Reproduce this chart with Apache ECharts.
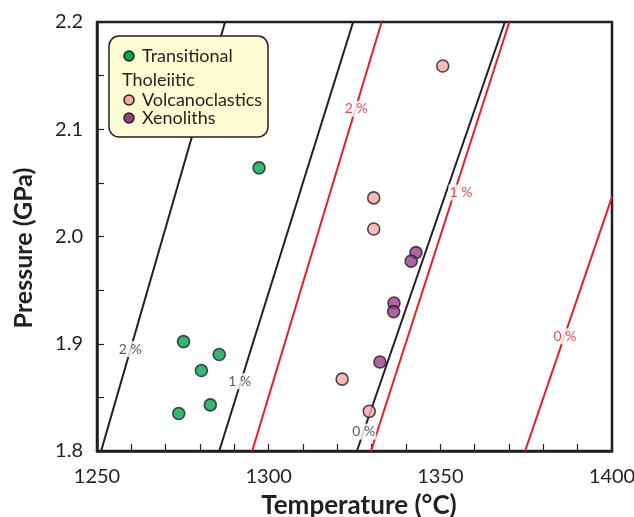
<!DOCTYPE html>
<html><head><meta charset="utf-8">
<script src="https://cdn.jsdelivr.net/npm/echarts@6/dist/echarts.min.js"></script>
<style>html,body{margin:0;padding:0;background:#fff}#c{width:634px;height:517px}</style>
</head><body><div id="c"></div>
<script>
// ---- data ----
const transitional = [[1275.2,1.902],[1285.6,1.890],[1280.4,1.875],[1283.0,1.843],[1273.8,1.835],[1297.2,2.064]];
const volcanoclastics = [[1350.7,2.159],[1330.6,2.036],[1330.6,2.007],[1321.4,1.867],[1329.3,1.837]];
const xenoliths = [[1342.9,1.985],[1341.5,1.977],[1336.5,1.938],[1336.4,1.930],[1332.4,1.883]];
const black2 = [[1251.2,1.8],[1287.3,2.2]];
const black1 = [[1285.6,1.8],[1324.6,2.2]];
const black0 = [[1325.7,1.8],[1368.8,2.2]];
const red2 = [[1295.2,1.8],[1332.9,2.2]];
const red1 = [[1329.8,1.8],[1370.1,2.2]];
const red0 = [[1374.7,1.8],[1400,2.037]];
const blackLabels = [[1259.7,1.895,'2 %'],[1291.6,1.865,'1 %'],[1327.7,1.818,'0 %']];
const redLabels = [[1325.5,2.119,'2 %'],[1356.0,2.041,'1 %'],[1386.3,1.907,'0 %']];
const xTicks = [1250,1300,1350,1400];
const yTicks = [1.8,1.9,2.0,2.1,2.2];

const FONT = 'Lato';
const INK = '#231f20';
const chart = echarts.init(document.getElementById('c'));
const lineS = (d,c) => ({type:'line',data:d,symbol:'none',lineStyle:{color:c,width:2},silent:true,z:2,animation:false});
const labS = (d,c) => ({type:'scatter',data:d,symbolSize:0,z:3,animation:false,
  label:{show:true,position:'inside',formatter:p=>p.data[2],color:c,fontSize:14,fontFamily:FONT,backgroundColor:'#fff',padding:[1,1]}});
const ptS = (d,c) => ({type:'scatter',data:d,symbol:'circle',symbolSize:12,z:5,animation:false,
  itemStyle:{color:c,borderColor:INK,borderWidth:1.6}});
const tickStyle = {show:true,inside:true,length:7,interval:0,lineStyle:{color:INK,width:1.2}};

chart.setOption({
  animation:false,
  grid:{left:97,right:22,top:22,bottom:66,show:true,borderColor:INK,borderWidth:2.5,backgroundColor:'transparent',
    outerBoundsMode:'none',containLabel:false},
  xAxis:[
    {type:'value',min:1250,max:1400,interval:10,position:'bottom',
     axisLine:{show:true,lineStyle:{color:INK,width:2.5}},
     axisTick:tickStyle,splitLine:{show:false},axisLabel:{show:true,formatter:()=>''}},
    {type:'value',min:1250,max:1400,interval:50,position:'bottom',
     name:'Temperature (°C)',nameLocation:'middle',nameGap:42,
     nameTextStyle:{fontFamily:FONT,fontWeight:'bold',fontSize:26,color:INK,padding:[0,0,0,9]},
     axisLine:{show:false},axisTick:{show:false},splitLine:{show:false},
     axisLabel:{margin:16,fontFamily:FONT,fontSize:20,color:INK,
       formatter:v=>xTicks.indexOf(Math.round(v))>=0 ? String(Math.round(v)) : ''}}
  ],
  yAxis:[
    {type:'value',min:1.8,max:2.2,interval:0.05,position:'left',
     axisLine:{show:true,lineStyle:{color:INK,width:2.5}},
     axisTick:tickStyle,splitLine:{show:false},axisLabel:{show:true,formatter:()=>''}},
    {type:'value',min:1.8,max:2.2,interval:0.1,position:'left',
     name:'Pressure (GPa)',nameLocation:'middle',nameGap:61,
     nameTextStyle:{fontFamily:FONT,fontWeight:'bold',fontSize:25,color:INK,padding:[0,23,0,0]},
     axisLine:{show:false},axisTick:{show:false},splitLine:{show:false},
     axisLabel:{margin:14,fontFamily:FONT,fontSize:20,color:INK,
       formatter:v=>{const r=Math.round(v*10)/10; return yTicks.some(t=>Math.abs(t-r)<1e-6) ? r.toFixed(1) : '';}}}
  ],
  series:[
    lineS(black2,INK),lineS(black1,INK),lineS(black0,INK),
    lineS(red2,'#ed1c24'),lineS(red1,'#ed1c24'),lineS(red0,'#ed1c24'),
    labS(blackLabels,'#333'),labS(redLabels,'#ed1c24'),
    ptS(transitional,'#00a651'),ptS(volcanoclastics,'#f4a9a8'),ptS(xenoliths,'#9e3c8c')
  ],
  graphic:[
    {type:'rect',shape:{x:109,y:36,width:159,height:101,r:10},style:{fill:'#fefcd2',stroke:INK,lineWidth:1.5},z:10},
    {type:'circle',shape:{cx:129,cy:56,r:5},style:{fill:'#00a651',stroke:INK,lineWidth:1.5},z:11},
    {type:'text',x:142,y:56,style:{text:'Transitional',fontFamily:FONT,fontSize:18,fill:INK,verticalAlign:'middle'},z:11},
    {type:'text',x:122,y:80,style:{text:'Tholeiitic',fontFamily:FONT,fontSize:18,fill:INK,verticalAlign:'middle'},z:11},
    {type:'circle',shape:{cx:129,cy:100,r:5},style:{fill:'#f4a9a8',stroke:INK,lineWidth:1.5},z:11},
    {type:'text',x:142,y:100,style:{text:'Volcanoclastics',fontFamily:FONT,fontSize:18,fill:INK,verticalAlign:'middle'},z:11},
    {type:'circle',shape:{cx:129,cy:118,r:5},style:{fill:'#9e3c8c',stroke:INK,lineWidth:1.5},z:11},
    {type:'text',x:142,y:118,style:{text:'Xenoliths',fontFamily:FONT,fontSize:18,fill:INK,verticalAlign:'middle'},z:11}
  ]
});
</script></body></html>
